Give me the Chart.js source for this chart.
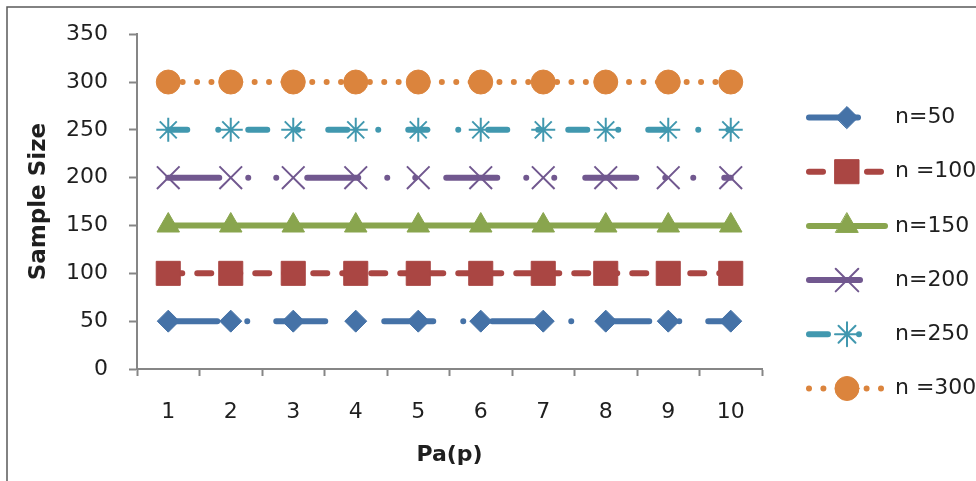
<!DOCTYPE html>
<html lang="en">
<head>
  <meta charset="UTF-8" />
  <title>Sample Size vs Pa(p)</title>
  <script src="https://cdn.jsdelivr.net/npm/chart.js"></script>
  <style>
    html, body {
      margin: 0;
      padding: 0;
      background: #fff;
      overflow: hidden;
    }
    .wrap {
      width: 976px;
      height: 481px;
    }
  </style>
</head>
<body>
  <div class="wrap"><canvas id="chart" width="976" height="481"></canvas></div>

  <script>
    // data
    const labels = ['1', '2', '3', '4', '5', '6', '7', '8', '9', '10'];
    const seriesNames = ['n=50', 'n =100', 'n=150', 'n=200', 'n=250', 'n =300'];
    const n50  = [50, 50, 50, 50, 50, 50, 50, 50, 50, 50];
    const n100 = [100, 100, 100, 100, 100, 100, 100, 100, 100, 100];
    const n150 = [150, 150, 150, 150, 150, 150, 150, 150, 150, 150];
    const n200 = [200, 200, 200, 200, 200, 200, 200, 200, 200, 200];
    const n250 = [250, 250, 250, 250, 250, 250, 250, 250, 250, 250];
    const n300 = [300, 300, 300, 300, 300, 300, 300, 300, 300, 300];

    const FONT = "'DejaVu Sans', sans-serif";
    const TEXT = '#1f1f1f';
    const AXIS = '#868686';

    function series(label, data, color, dash, style, radius, bw) {
      return {
        label: label,
        data: data,
        borderColor: color,
        backgroundColor: color,
        borderWidth: 6,
        borderDash: dash,
        borderCapStyle: 'round',
        borderJoinStyle: 'round',
        pointStyle: style,
        pointRadius: radius,
        pointHoverRadius: radius,
        pointBorderWidth: bw,
        pointBackgroundColor: color,
        pointBorderColor: color,
        fill: false,
        tension: 0
      };
    }

    const datasets = [
      series(seriesNames[0], n50,  '#4572A7', [49, 30, 0, 29], 'rectRot', 11, 1),
      series(seriesNames[1], n100, '#AA4643', [14, 15], 'rect', 17, 1),
      series(seriesNames[2], n150, '#89A54E', [], 'triangle', 13, 1),
      series(seriesNames[3], n200, '#71588F', [51, 29, 0, 28, 0, 31], 'crossRot', 16, 2),
      series(seriesNames[4], n250, '#4198AF', [19, 31, 0, 30], 'star', 12, 2),
      series(seriesNames[5], n300, '#DB843D', [0, 14.4], 'circle', 12, 1)
    ];

    // legend on the right: line sample with the marker on it, then the name
    const sideLegend = {
      id: 'sideLegend',
      afterDraw(chart) {
        const ctx = chart.ctx;
        const x0 = 809, x1 = 885, mx = 847, tx = 895;
        chart.data.datasets.forEach((ds, i) => {
          const y = 117.5 + i * 54.2;
          ctx.save();
          ctx.strokeStyle = ds.borderColor;
          ctx.lineWidth = ds.borderWidth;
          ctx.lineCap = ds.borderCapStyle;
          ctx.setLineDash(ds.borderDash);
          ctx.beginPath();
          ctx.moveTo(x0, y);
          ctx.lineTo(x1, y);
          ctx.stroke();
          ctx.setLineDash([]);
          ctx.fillStyle = ds.pointBackgroundColor;
          ctx.strokeStyle = ds.pointBorderColor;
          ctx.lineWidth = ds.pointBorderWidth;
          Chart.helpers.drawPoint(ctx, {
            pointStyle: ds.pointStyle,
            radius: ds.pointRadius,
            rotation: 0,
            borderWidth: ds.pointBorderWidth
          }, mx, y);
          ctx.fillStyle = TEXT;
          ctx.font = '22px ' + FONT;
          ctx.textAlign = 'left';
          ctx.textBaseline = 'middle';
          ctx.fillText(ds.label, tx, y);
          ctx.restore();
        });
      }
    };

    // outer frame of the chart object (only left and top edges fall inside the shot)
    const frame = {
      id: 'frame',
      afterDraw(chart) {
        const ctx = chart.ctx;
        ctx.save();
        ctx.strokeStyle = '#5a5a5a';
        ctx.lineWidth = 1.5;
        ctx.beginPath();
        ctx.moveTo(7, 481);
        ctx.lineTo(7, 7);
        ctx.lineTo(976, 7);
        ctx.stroke();
        ctx.restore();
      }
    };

    new Chart(document.getElementById('chart'), {
      type: 'line',
      data: { labels: labels, datasets: datasets },
      options: {
        responsive: false,
        animation: false,
        layout: { padding: { left: 8, top: 31, right: 214, bottom: 8 } },
        plugins: {
          legend: { display: false },
          tooltip: { enabled: false }
        },
        scales: {
          x: {
            offset: true,
            afterFit: (s) => { s.height = 104; },
            grid: {
              offset: true,
              drawOnChartArea: false,
              drawTicks: true,
              tickLength: 7,
              tickWidth: 2,
              tickColor: AXIS
            },
            border: { display: true, color: AXIS, width: 2 },
            ticks: {
              color: TEXT,
              padding: 23,
              maxRotation: 0,
              font: { family: FONT, size: 22 }
            },
            title: {
              display: true,
              text: 'Pa(p)',
              color: TEXT,
              padding: { top: 0, bottom: 5 },
              font: { family: FONT, size: 22, weight: 'bold' }
            }
          },
          y: {
            min: 0,
            max: 350,
            afterFit: (s) => { s.width = 129; },
            grid: {
              drawOnChartArea: false,
              drawTicks: true,
              tickLength: 8,
              tickWidth: 2,
              tickColor: AXIS
            },
            border: { display: true, color: AXIS, width: 2 },
            ticks: {
              stepSize: 50,
              color: TEXT,
              padding: 21,
              font: { family: FONT, size: 22 }
            },
            title: {
              display: true,
              text: 'Sample Size',
              color: TEXT,
              padding: { top: 17, bottom: 0 },
              font: { family: FONT, size: 23, weight: 'bold' }
            }
          }
        }
      },
      plugins: [sideLegend, frame]
    });
  </script>
</body>
</html>
